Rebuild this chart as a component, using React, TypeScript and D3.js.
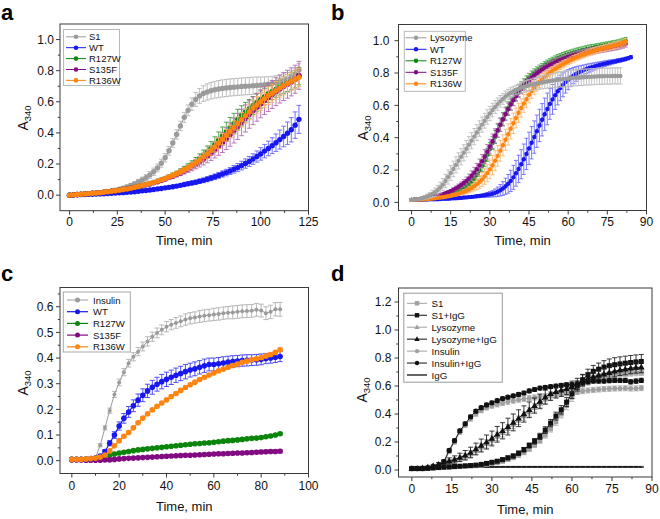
import React from "react";
import * as d3 from "d3";

const FONT = '"Liberation Sans", Arial, Helvetica, sans-serif';

// ---------------- Panel a (time every 2 min, 0..120) ----------------
const aTime = d3.range(0, 121, 2);
const aS1 = [0,0.002,0.004,0.005,0.007,0.009,0.011,0.013,0.016,0.019,
  0.023,0.027,0.032,0.038,0.045,0.053,0.062,0.072,0.084,0.097,
  0.112,0.13,0.15,0.175,0.205,0.24,0.285,0.335,0.39,0.445,
  0.5,0.545,0.585,0.615,0.638,0.653,0.663,0.671,0.677,0.682,
  0.686,0.689,0.692,0.694,0.696,0.698,0.7,0.701,0.703,0.705,
  0.707,0.71,0.713,0.717,0.722,0.728,0.736,0.746,0.759,0.778,0.805];
const aS1Err = [0.002,0.002,0.003,0.003,0.003,0.004,0.004,0.005,0.005,0.006,
  0.006,0.007,0.008,0.009,0.01,0.012,0.013,0.015,0.017,0.019,
  0.02,0.022,0.024,0.025,0.026,0.027,0.028,0.028,0.03,0.03,
  0.032,0.035,0.04,0.045,0.048,0.05,0.052,0.053,0.054,0.055,
  0.055,0.055,0.055,0.055,0.055,0.055,0.055,0.055,0.055,0.055,
  0.052,0.05,0.048,0.046,0.045,0.044,0.043,0.042,0.04,0.04,0.04];
const aWT = [0,0.001,0.002,0.003,0.004,0.005,0.006,0.007,0.008,0.009,
  0.01,0.012,0.013,0.015,0.016,0.018,0.02,0.022,0.025,0.028,
  0.03,0.033,0.036,0.04,0.043,0.047,0.05,0.054,0.058,0.063,
  0.068,0.073,0.078,0.083,0.089,0.095,0.102,0.11,0.118,0.127,
  0.136,0.145,0.155,0.166,0.177,0.19,0.203,0.217,0.232,0.248,
  0.265,0.283,0.3,0.318,0.337,0.357,0.377,0.398,0.42,0.45,0.487];
const aWTErr = [0.002,0.002,0.002,0.002,0.003,0.003,0.003,0.003,0.003,0.003,
  0.003,0.004,0.004,0.004,0.004,0.004,0.005,0.005,0.005,0.005,
  0.006,0.006,0.006,0.007,0.007,0.008,0.008,0.008,0.009,0.009,
  0.01,0.011,0.012,0.013,0.014,0.015,0.016,0.017,0.018,0.019,
  0.02,0.021,0.022,0.024,0.026,0.028,0.03,0.032,0.034,0.036,
  0.04,0.043,0.047,0.051,0.056,0.061,0.066,0.072,0.078,0.085,0.09];
const aR127W = [0,0.002,0.004,0.006,0.008,0.01,0.012,0.014,0.016,0.019,
  0.022,0.025,0.028,0.032,0.036,0.04,0.045,0.05,0.056,0.062,
  0.068,0.075,0.082,0.09,0.098,0.107,0.117,0.128,0.14,0.153,
  0.167,0.182,0.198,0.216,0.235,0.256,0.278,0.302,0.327,0.353,
  0.38,0.407,0.434,0.46,0.486,0.51,0.533,0.555,0.576,0.596,
  0.615,0.633,0.65,0.666,0.681,0.695,0.708,0.72,0.732,0.745,0.765];
const aR127WErr = [0.001,0.001,0.001,0.002,0.002,0.002,0.002,0.003,0.003,0.003,
  0.003,0.004,0.004,0.004,0.005,0.005,0.005,0.006,0.006,0.007,
  0.007,0.008,0.008,0.009,0.01,0.011,0.012,0.013,0.014,0.016,
  0.018,0.02,0.023,0.026,0.03,0.034,0.038,0.043,0.048,0.053,
  0.058,0.062,0.065,0.066,0.066,0.065,0.063,0.06,0.058,0.056,
  0.055,0.054,0.053,0.052,0.052,0.052,0.053,0.054,0.055,0.056,0.056];
const aS135F = [0,0.002,0.004,0.006,0.008,0.01,0.012,0.014,0.016,0.019,
  0.022,0.025,0.028,0.032,0.036,0.04,0.045,0.05,0.055,0.06,
  0.066,0.072,0.079,0.086,0.094,0.103,0.113,0.122,0.132,0.143,
  0.155,0.168,0.182,0.197,0.213,0.23,0.249,0.269,0.291,0.314,
  0.338,0.363,0.389,0.415,0.441,0.467,0.493,0.518,0.542,0.565,
  0.587,0.608,0.628,0.647,0.665,0.682,0.698,0.713,0.728,0.745,0.77];
const aS135FErr = [0.001,0.001,0.001,0.002,0.002,0.002,0.002,0.003,0.003,0.003,
  0.003,0.004,0.004,0.004,0.005,0.005,0.005,0.006,0.006,0.007,
  0.007,0.008,0.008,0.009,0.01,0.011,0.012,0.013,0.015,0.017,
  0.019,0.022,0.025,0.028,0.032,0.036,0.041,0.046,0.052,0.058,
  0.064,0.07,0.075,0.08,0.083,0.085,0.087,0.088,0.089,0.09,
  0.09,0.09,0.09,0.09,0.09,0.09,0.09,0.09,0.09,0.09,0.09];
const aR136W = [0,0.002,0.004,0.006,0.008,0.01,0.012,0.014,0.016,0.019,
  0.022,0.025,0.028,0.032,0.036,0.04,0.045,0.05,0.056,0.062,
  0.068,0.075,0.082,0.09,0.098,0.107,0.117,0.127,0.138,0.15,
  0.163,0.177,0.192,0.208,0.225,0.245,0.265,0.287,0.31,0.335,
  0.36,0.385,0.41,0.435,0.46,0.485,0.51,0.535,0.56,0.58,
  0.6,0.62,0.64,0.655,0.672,0.688,0.703,0.718,0.732,0.745,0.757];
const aR136WErr = [0.001,0.001,0.001,0.002,0.002,0.002,0.002,0.003,0.003,0.003,
  0.003,0.004,0.004,0.004,0.005,0.005,0.005,0.006,0.006,0.007,
  0.007,0.008,0.008,0.009,0.01,0.011,0.012,0.013,0.014,0.015,
  0.016,0.018,0.02,0.022,0.024,0.026,0.028,0.03,0.032,0.034,
  0.036,0.038,0.04,0.042,0.044,0.046,0.048,0.05,0.052,0.054,
  0.055,0.056,0.057,0.058,0.058,0.058,0.058,0.058,0.058,0.058,0.058];

// ---------------- Panel b (time every 1 min) ----------------
const bTimeLys = d3.range(0, 81, 1);
const bTimeWT = d3.range(0, 85, 1);
const bTimeMut = d3.range(0, 83, 1);
const bLys = [0.016,0.017,0.019,0.022,0.026,0.031,0.037,0.044,0.053,0.063,
  0.076,0.092,0.11,0.132,0.157,0.182,0.207,0.232,0.257,0.282,
  0.307,0.332,0.357,0.382,0.407,0.432,0.457,0.481,0.505,0.528,
  0.55,0.571,0.59,0.608,0.625,0.64,0.655,0.667,0.678,0.687,
  0.695,0.702,0.708,0.714,0.719,0.724,0.728,0.732,0.736,0.739,
  0.742,0.745,0.748,0.751,0.754,0.756,0.758,0.76,0.762,0.764,
  0.766,0.768,0.77,0.771,0.772,0.773,0.774,0.775,0.776,0.777,
  0.778,0.779,0.78,0.78,0.781,0.781,0.781,0.782,0.782,0.782,0.782];
const bLysErr = [0.004,0.005,0.006,0.008,0.01,0.012,0.015,0.018,0.022,0.026,
  0.03,0.034,0.038,0.041,0.044,0.046,0.048,0.05,0.05,0.05,
  0.05,0.05,0.05,0.05,0.05,0.049,0.048,0.047,0.046,0.045,
  0.044,0.042,0.04,0.038,0.036,0.034,0.033,0.032,0.031,0.03,
  0.03,0.031,0.032,0.033,0.034,0.035,0.036,0.037,0.038,0.039,
  0.04,0.041,0.042,0.043,0.044,0.045,0.046,0.047,0.048,0.049,
  0.05,0.05,0.05,0.05,0.05,0.05,0.05,0.05,0.05,0.05,
  0.05,0.05,0.05,0.05,0.05,0.05,0.05,0.05,0.05,0.05,0.05];
const bWT = [0.016,0.016,0.016,0.017,0.017,0.018,0.018,0.019,0.019,0.02,
  0.02,0.021,0.022,0.022,0.023,0.024,0.025,0.026,0.027,0.028,
  0.03,0.031,0.033,0.034,0.036,0.038,0.04,0.042,0.044,0.047,
  0.05,0.054,0.059,0.066,0.075,0.086,0.1,0.115,0.133,0.155,
  0.18,0.207,0.236,0.267,0.3,0.334,0.369,0.404,0.44,0.476,
  0.511,0.545,0.578,0.609,0.637,0.663,0.687,0.708,0.727,0.744,
  0.759,0.772,0.784,0.794,0.803,0.811,0.818,0.825,0.831,0.836,
  0.841,0.846,0.85,0.854,0.858,0.862,0.865,0.869,0.872,0.876,
  0.879,0.883,0.887,0.892,0.898];
const bWTErr = [0.003,0.003,0.003,0.003,0.003,0.003,0.003,0.003,0.003,0.003,
  0.004,0.004,0.004,0.004,0.004,0.004,0.004,0.004,0.004,0.004,
  0.005,0.005,0.006,0.006,0.007,0.008,0.009,0.01,0.012,0.014,
  0.017,0.02,0.024,0.029,0.035,0.042,0.05,0.058,0.066,0.074,
  0.08,0.085,0.09,0.094,0.097,0.1,0.1,0.1,0.1,0.1,
  0.1,0.1,0.098,0.095,0.092,0.088,0.084,0.079,0.074,0.068,
  0.062,0.056,0.05,0.045,0.04,0.036,0.032,0.029,0.026,0.024,
  0.022,0.02,0.019,0.018,0.017,0.016,0.015,0.014,0.013,0.012,
  0.012,0.011,0.011,0.01,0.01];
const bR127W = [0.016,0.017,0.018,0.019,0.02,0.021,0.023,0.025,0.027,0.029,
  0.032,0.035,0.038,0.042,0.046,0.051,0.057,0.064,0.072,0.081,
  0.091,0.102,0.115,0.13,0.148,0.17,0.196,0.226,0.259,0.294,
  0.33,0.367,0.405,0.443,0.48,0.516,0.55,0.582,0.612,0.64,
  0.666,0.69,0.712,0.732,0.752,0.77,0.786,0.8,0.813,0.825,
  0.836,0.847,0.857,0.866,0.875,0.883,0.891,0.898,0.904,0.91,
  0.916,0.921,0.926,0.931,0.935,0.939,0.943,0.947,0.951,0.954,
  0.958,0.961,0.964,0.967,0.97,0.973,0.976,0.979,0.982,0.985,
  0.99,0.995,1.0];
const bR127WErr = [0.003,0.003,0.003,0.003,0.003,0.003,0.003,0.003,0.003,0.003,
  0.005,0.005,0.006,0.006,0.007,0.008,0.009,0.01,0.012,0.014,
  0.016,0.019,0.022,0.025,0.028,0.031,0.034,0.036,0.038,0.04,
  0.04,0.04,0.04,0.04,0.04,0.04,0.04,0.04,0.04,0.04,
  0.038,0.036,0.034,0.032,0.03,0.028,0.027,0.026,0.025,0.024,
  0.023,0.023,0.023,0.023,0.023,0.023,0.023,0.023,0.023,0.023,
  0.022,0.022,0.022,0.022,0.022,0.022,0.022,0.022,0.022,0.022,
  0.02,0.02,0.02,0.02,0.02,0.02,0.02,0.02,0.02,0.02,
  0.02,0.02,0.02];
const bS135F = [0.016,0.017,0.018,0.02,0.022,0.024,0.027,0.03,0.033,0.037,
  0.041,0.046,0.051,0.057,0.063,0.07,0.078,0.087,0.097,0.108,
  0.12,0.133,0.148,0.165,0.184,0.205,0.229,0.255,0.283,0.313,
  0.345,0.378,0.412,0.446,0.48,0.513,0.545,0.576,0.605,0.632,
  0.657,0.68,0.701,0.721,0.739,0.756,0.771,0.785,0.798,0.81,
  0.821,0.831,0.841,0.85,0.858,0.866,0.873,0.88,0.886,0.892,
  0.898,0.903,0.908,0.913,0.917,0.921,0.925,0.929,0.933,0.936,
  0.939,0.942,0.945,0.948,0.951,0.954,0.957,0.96,0.963,0.966,
  0.969,0.974,0.98];
const bS135FErr = [0.003,0.003,0.003,0.003,0.003,0.003,0.003,0.003,0.003,0.003,
  0.005,0.006,0.007,0.008,0.009,0.01,0.012,0.014,0.016,0.018,
  0.021,0.024,0.027,0.03,0.033,0.036,0.039,0.041,0.043,0.045,
  0.045,0.045,0.044,0.043,0.042,0.041,0.04,0.038,0.036,0.034,
  0.032,0.03,0.029,0.028,0.027,0.026,0.025,0.025,0.024,0.024,
  0.023,0.023,0.023,0.023,0.023,0.023,0.023,0.023,0.023,0.023,
  0.022,0.022,0.022,0.022,0.022,0.022,0.022,0.022,0.022,0.022,
  0.021,0.021,0.021,0.021,0.021,0.021,0.021,0.021,0.021,0.021,
  0.02,0.02,0.02];
const bR136W = [0.016,0.016,0.017,0.018,0.019,0.02,0.021,0.022,0.024,0.026,
  0.028,0.03,0.032,0.035,0.038,0.041,0.045,0.049,0.054,0.059,
  0.065,0.072,0.08,0.089,0.1,0.112,0.126,0.142,0.16,0.181,
  0.204,0.23,0.258,0.288,0.32,0.353,0.387,0.421,0.455,0.489,
  0.522,0.554,0.584,0.612,0.638,0.665,0.688,0.709,0.728,0.746,
  0.762,0.777,0.791,0.803,0.814,0.825,0.835,0.845,0.854,0.863,
  0.872,0.88,0.888,0.895,0.902,0.909,0.915,0.921,0.927,0.932,
  0.937,0.942,0.947,0.951,0.955,0.959,0.963,0.967,0.971,0.975,
  0.98,0.986,0.993];
const bR136WErr = [0.003,0.003,0.003,0.003,0.003,0.003,0.003,0.003,0.003,0.003,
  0.004,0.004,0.005,0.005,0.006,0.007,0.008,0.009,0.01,0.012,
  0.014,0.017,0.02,0.024,0.028,0.033,0.038,0.043,0.048,0.053,
  0.057,0.06,0.062,0.064,0.065,0.065,0.065,0.065,0.064,0.063,
  0.061,0.059,0.057,0.055,0.052,0.049,0.046,0.043,0.04,0.037,
  0.034,0.032,0.03,0.028,0.026,0.025,0.024,0.023,0.022,0.021,
  0.02,0.02,0.02,0.02,0.02,0.02,0.02,0.02,0.02,0.02,
  0.02,0.02,0.02,0.02,0.02,0.02,0.02,0.02,0.02,0.02,
  0.02,0.02,0.02];

// ---------------- Panel c (time every 2 min, 0..88) ----------------
const cTime = d3.range(0, 89, 2);
const cInsulin = [0.005,0.005,0.005,0.006,0.008,0.012,0.06,0.128,0.195,0.258,
  0.305,0.345,0.38,0.405,0.425,0.445,0.465,0.483,0.498,0.51,
  0.522,0.53,0.537,0.543,0.55,0.555,0.558,0.562,0.565,0.567,
  0.57,0.572,0.575,0.577,0.578,0.58,0.582,0.583,0.584,0.588,
  0.585,0.575,0.58,0.59,0.59];
const cInsulinErr = [0.003,0.003,0.003,0.003,0.003,0.004,0.006,0.008,0.01,0.012,
  0.013,0.014,0.015,0.016,0.016,0.017,0.018,0.018,0.019,0.019,
  0.02,0.02,0.021,0.021,0.022,0.022,0.022,0.023,0.023,0.023,
  0.024,0.024,0.024,0.024,0.025,0.025,0.025,0.025,0.025,0.025,
  0.025,0.025,0.026,0.026,0.027];
const cWT = [0.005,0.005,0.005,0.005,0.008,0.01,0.018,0.036,0.068,0.1,
  0.135,0.165,0.19,0.214,0.236,0.255,0.272,0.286,0.298,0.308,
  0.317,0.325,0.333,0.34,0.347,0.353,0.358,0.364,0.37,0.375,
  0.375,0.378,0.381,0.384,0.386,0.388,0.39,0.391,0.392,0.393,
  0.395,0.398,0.4,0.403,0.406];
const cWTErr = [0.003,0.003,0.003,0.003,0.003,0.004,0.005,0.007,0.01,0.013,
  0.016,0.019,0.021,0.023,0.024,0.025,0.026,0.027,0.027,0.028,
  0.028,0.028,0.028,0.028,0.028,0.027,0.027,0.026,0.026,0.025,
  0.025,0.024,0.024,0.023,0.023,0.022,0.022,0.022,0.021,0.021,
  0.021,0.02,0.02,0.02,0.02];
const cR127W = [0.005,0.005,0.005,0.006,0.007,0.009,0.012,0.016,0.021,0.026,
  0.03,0.033,0.036,0.039,0.042,0.044,0.046,0.048,0.05,0.052,
  0.054,0.056,0.058,0.06,0.062,0.064,0.066,0.067,0.069,0.07,
  0.072,0.074,0.076,0.078,0.079,0.081,0.083,0.085,0.087,0.088,
  0.09,0.093,0.096,0.1,0.105];
const cR127WErr = [0.003,0.003,0.003,0.003,0.003,0.003,0.003,0.003,0.003,0.003,
  0.004,0.004,0.004,0.004,0.004,0.004,0.004,0.004,0.004,0.004,
  0.004,0.004,0.004,0.004,0.004,0.004,0.004,0.004,0.004,0.004,
  0.005,0.005,0.005,0.005,0.005,0.005,0.005,0.005,0.005,0.005,
  0.005,0.005,0.005,0.005,0.005];
const cS135F = [0.003,0.003,0.003,0.002,0.002,0.002,0.002,0.003,0.003,0.005,
  0.007,0.008,0.009,0.01,0.011,0.012,0.013,0.014,0.015,0.016,
  0.017,0.018,0.019,0.02,0.021,0.021,0.022,0.023,0.024,0.025,
  0.026,0.027,0.027,0.028,0.029,0.03,0.03,0.031,0.032,0.033,
  0.034,0.035,0.036,0.036,0.037];
const cS135FErr = [0.003,0.003,0.003,0.003,0.003,0.003,0.003,0.003,0.003,0.003,
  0.004,0.004,0.004,0.004,0.004,0.004,0.004,0.004,0.004,0.004,
  0.005,0.005,0.005,0.005,0.005,0.005,0.005,0.005,0.005,0.005,
  0.006,0.006,0.006,0.006,0.006,0.006,0.006,0.006,0.006,0.006,
  0.007,0.007,0.007,0.007,0.007];
const cR136W = [0.005,0.005,0.005,0.006,0.008,0.01,0.014,0.022,0.038,0.058,
  0.078,0.095,0.11,0.128,0.148,0.166,0.183,0.198,0.212,0.225,
  0.237,0.25,0.262,0.274,0.285,0.296,0.306,0.316,0.325,0.334,
  0.342,0.35,0.357,0.364,0.371,0.377,0.383,0.388,0.393,0.397,
  0.402,0.408,0.414,0.422,0.432];
const cR136WErr = [0.003,0.003,0.003,0.003,0.003,0.003,0.003,0.003,0.003,0.003,
  0.005,0.005,0.005,0.005,0.005,0.005,0.005,0.005,0.005,0.005,
  0.006,0.006,0.006,0.006,0.006,0.006,0.006,0.006,0.006,0.006,
  0.006,0.006,0.006,0.006,0.006,0.006,0.006,0.006,0.006,0.006,
  0.007,0.007,0.007,0.007,0.007];

// ---------------- Panel d (time every 2 min, 0..86) ----------------
const dTime = d3.range(0, 87, 2);
const dS1 = [0.01,0.01,0.01,0.012,0.014,0.016,0.018,0.02,0.022,0.024,
  0.026,0.028,0.03,0.034,0.04,0.046,0.053,0.062,0.074,0.088,
  0.105,0.125,0.15,0.178,0.21,0.25,0.295,0.345,0.4,0.46,
  0.52,0.57,0.608,0.635,0.652,0.664,0.672,0.678,0.683,0.687,
  0.69,0.693,0.695,0.697];
const dS1Err = [0.005,0.005,0.005,0.005,0.005,0.005,0.005,0.005,0.005,0.005,
  0.006,0.006,0.007,0.008,0.009,0.01,0.011,0.012,0.013,0.014,
  0.015,0.016,0.017,0.018,0.02,0.022,0.024,0.026,0.028,0.03,
  0.03,0.03,0.03,0.028,0.026,0.025,0.024,0.023,0.022,0.022,
  0.022,0.022,0.022,0.022];
const dS1IgG = [0.01,0.01,0.01,0.012,0.015,0.018,0.02,0.022,0.025,0.027,
  0.03,0.032,0.035,0.04,0.047,0.055,0.063,0.074,0.087,0.1,
  0.12,0.145,0.175,0.205,0.24,0.285,0.335,0.385,0.43,0.485,
  0.545,0.6,0.645,0.68,0.705,0.72,0.735,0.745,0.752,0.758,
  0.763,0.768,0.772,0.775];
const dS1IgGErr = [0.005,0.005,0.005,0.005,0.005,0.005,0.005,0.005,0.005,0.005,
  0.006,0.006,0.007,0.008,0.009,0.01,0.011,0.012,0.013,0.014,
  0.015,0.016,0.018,0.02,0.022,0.024,0.026,0.028,0.03,0.032,
  0.034,0.036,0.038,0.04,0.042,0.044,0.046,0.048,0.05,0.05,
  0.05,0.05,0.05,0.05];
const dLys = [0.01,0.01,0.013,0.018,0.026,0.036,0.048,0.058,0.068,0.082,
  0.097,0.115,0.138,0.162,0.187,0.212,0.24,0.266,0.295,0.325,
  0.355,0.385,0.415,0.445,0.475,0.505,0.53,0.548,0.56,0.572,
  0.588,0.608,0.628,0.642,0.652,0.662,0.671,0.679,0.686,0.692,
  0.697,0.7,0.703,0.705];
const dLysErr = [0.005,0.005,0.006,0.008,0.01,0.012,0.014,0.016,0.018,0.02,
  0.022,0.024,0.026,0.028,0.03,0.03,0.03,0.03,0.03,0.03,
  0.03,0.03,0.03,0.03,0.03,0.03,0.03,0.03,0.03,0.03,
  0.028,0.026,0.025,0.024,0.023,0.022,0.022,0.022,0.022,0.022,
  0.022,0.022,0.022,0.022];
const dLysIgG = [0.01,0.01,0.015,0.02,0.03,0.04,0.055,0.065,0.075,0.09,
  0.105,0.125,0.15,0.175,0.2,0.225,0.255,0.28,0.31,0.34,
  0.37,0.4,0.43,0.46,0.49,0.52,0.545,0.56,0.57,0.58,
  0.595,0.615,0.64,0.655,0.665,0.675,0.685,0.695,0.705,0.715,
  0.72,0.728,0.732,0.735];
const dLysIgGErr = [0.005,0.005,0.006,0.008,0.01,0.014,0.018,0.022,0.026,0.03,
  0.034,0.038,0.042,0.046,0.05,0.053,0.056,0.058,0.06,0.06,
  0.06,0.058,0.056,0.054,0.052,0.05,0.048,0.046,0.044,0.042,
  0.04,0.04,0.04,0.04,0.04,0.04,0.04,0.04,0.04,0.04,
  0.04,0.04,0.04,0.04];
const dIns = [0.01,0.01,0.01,0.012,0.015,0.025,0.055,0.13,0.2,0.27,
  0.32,0.365,0.4,0.425,0.445,0.458,0.468,0.478,0.487,0.495,
  0.502,0.508,0.513,0.518,0.523,0.528,0.533,0.538,0.543,0.548,
  0.553,0.558,0.563,0.568,0.572,0.575,0.578,0.58,0.582,0.583,
  0.584,0.582,0.583,0.585];
const dInsErr = [0.005,0.005,0.005,0.005,0.005,0.005,0.008,0.012,0.015,0.016,
  0.016,0.016,0.016,0.016,0.016,0.017,0.017,0.017,0.018,0.018,
  0.018,0.018,0.018,0.018,0.018,0.018,0.018,0.018,0.018,0.018,
  0.018,0.018,0.018,0.018,0.018,0.018,0.018,0.018,0.018,0.018,
  0.018,0.018,0.018,0.018];
const dInsIgG = [0.01,0.01,0.01,0.015,0.02,0.03,0.06,0.14,0.21,0.28,
  0.33,0.38,0.42,0.445,0.465,0.48,0.495,0.51,0.52,0.53,
  0.54,0.55,0.565,0.575,0.585,0.59,0.595,0.6,0.605,0.608,
  0.61,0.615,0.625,0.63,0.635,0.635,0.635,0.638,0.64,0.64,
  0.64,0.63,0.635,0.64];
const dInsIgGErr = [0.005,0.005,0.005,0.005,0.006,0.007,0.009,0.011,0.012,0.012,
  0.012,0.012,0.012,0.012,0.012,0.012,0.012,0.012,0.012,0.012,
  0.013,0.013,0.013,0.013,0.013,0.013,0.013,0.013,0.013,0.013,
  0.014,0.014,0.014,0.014,0.014,0.014,0.014,0.014,0.014,0.014,
  0.015,0.015,0.015,0.015];
const dIgG = [0.022,0.022,0.022,0.022,0.022,0.022,0.022,0.022,0.022,0.022,
  0.022,0.022,0.022,0.022,0.022,0.022,0.022,0.022,0.022,0.022,
  0.022,0.022,0.022,0.022,0.022,0.022,0.022,0.022,0.022,0.022,
  0.022,0.022,0.022,0.022,0.022,0.022,0.022,0.022,0.022,0.022,
  0.022,0.022,0.022,0.022];
const dIgGErr = [0.004,0.004,0.004,0.004,0.004,0.004,0.004,0.004,0.004,0.004,
  0.004,0.004,0.004,0.004,0.004,0.004,0.004,0.004,0.004,0.004,
  0.004,0.004,0.004,0.004,0.004,0.004,0.004,0.004,0.004,0.004,
  0.004,0.004,0.004,0.004,0.004,0.004,0.004,0.004,0.004,0.004,
  0.004,0.004,0.004,0.004];

// ---------------- Axis ticks ----------------
const aXTicks = [0, 25, 50, 75, 100, 125];
const aYTicks = [0, 0.2, 0.4, 0.6, 0.8, 1.0];
const bXTicks = [0, 15, 30, 45, 60, 75, 90];
const bYTicks = [0, 0.2, 0.4, 0.6, 0.8, 1.0];
const cXTicks = [0, 20, 40, 60, 80, 100];
const cYTicks = [0, 0.1, 0.2, 0.3, 0.4, 0.5, 0.6];
const dXTicks = [0, 15, 30, 45, 60, 75, 90];
const dYTicks = [0, 0.2, 0.4, 0.6, 0.8, 1.0, 1.2];

// ---------------- Colours ----------------
const GRAY = "#9b9b9b", BLUE = "#1717ee", GREEN = "#0b850b", PURPLE = "#820a82", ORANGE = "#ff8410", BLACK = "#111111";

type Shape = "circle" | "square" | "triangle" | "none";
type Ser = {
  name: string; t: number[]; v: number[]; e: number[];
  color: string; ecol: string; lcol: string; shape: Shape; size: number; lw: number;
};

type Cfg = {
  letter: string; lx: number; ly: number;
  x0: number; x1: number; y0: number; y1: number;
  xd: [number, number]; yd: [number, number];
  xTicks: number[]; xStep: number; yTicks: number[]; yStep: number;
  yGap: number; xLabY: number; titleY: number; aPos: [number, number];
  series: Ser[]; legendOrder: Ser[];
  lg: { x: number; y: number; w: number; h: number; row0: number; dy: number; l0: number; l1: number; tx: number; fs: number; border: string; msize: number };
  cap: number;
};

function Marker({ shape, cx, cy, size, fill }: { shape: Shape; cx: number; cy: number; size: number; fill: string }) {
  if (shape === "circle") return <circle cx={cx} cy={cy} r={size} fill={fill} />;
  if (shape === "square") return <rect x={cx - size} y={cy - size} width={size * 2} height={size * 2} fill={fill} />;
  if (shape === "triangle") {
    const p = d3.symbol(d3.symbolTriangle, size * size * 2.6)() || "";
    return <path d={p} transform={`translate(${cx},${cy + size * 0.15})`} fill={fill} />;
  }
  return null;
}

function Panel({ c }: { c: Cfg }) {
  const x = d3.scaleLinear().domain(c.xd).range([c.x0, c.x1]);
  const y = d3.scaleLinear().domain(c.yd).range([c.y1, c.y0]);
  const line = d3.line<[number, number]>().x((d) => x(d[0])).y((d) => y(d[1]));
  const xMinor: number[] = [];
  for (let i = 0; i < c.xTicks.length - 1; i++) xMinor.push((c.xTicks[i] + c.xTicks[i + 1]) / 2);
  const yMinor: number[] = [];
  for (let i = 0; i < c.yTicks.length - 1; i++) yMinor.push((c.yTicks[i] + c.yTicks[i + 1]) / 2);
  const lastY = c.yTicks[c.yTicks.length - 1];
  if (lastY + c.yStep / 2 < c.yd[1]) yMinor.push(lastY + c.yStep / 2);
  const fmt = d3.format(".1f");
  const axisCol = "#3a3a3a";
  const cx = (c.x0 + c.x1) / 2;

  return (
    <g>
      <text x={c.lx} y={c.ly} fontSize={22} fontWeight="bold" fontFamily={FONT} fill="#000">{c.letter}</text>
      {c.series.map((s, si) => {
        const n = Math.min(s.t.length, s.v.length);
        const pts: [number, number][] = [];
        let eb = "";
        for (let i = 0; i < n; i++) {
          pts.push([s.t[i], s.v[i]]);
          const e = s.e[i] || 0;
          if (e > 0) {
            const px = x(s.t[i]);
            const yt = y(s.v[i] + e), yb = y(s.v[i] - e);
            eb += `M${px},${yb}V${yt}M${px - c.cap},${yt}H${px + c.cap}M${px - c.cap},${yb}H${px + c.cap}`;
          }
        }
        return (
          <g key={si}>
            <path d={eb} stroke={s.ecol} strokeWidth={0.9} fill="none" />
            <path d={line(pts) || ""} stroke={s.lcol} strokeWidth={s.lw} fill="none" />
            {s.shape !== "none" && pts.map((p, i) => (
              <Marker key={i} shape={s.shape} cx={x(p[0])} cy={y(p[1])} size={s.size} fill={s.color} />
            ))}
          </g>
        );
      })}
      <rect x={c.x0} y={c.y0} width={c.x1 - c.x0} height={c.y1 - c.y0} fill="none" stroke={axisCol} strokeWidth={1} />
      {c.xTicks.map((t) => (
        <g key={"xt" + t}>
          <line x1={x(t)} x2={x(t)} y1={c.y1} y2={c.y1 + 4} stroke={axisCol} strokeWidth={1} />
          <text x={x(t)} y={c.xLabY} fontSize={12} textAnchor="middle" fontFamily={FONT} fill="#111">{t}</text>
        </g>
      ))}
      {xMinor.map((t) => (
        <line key={"xm" + t} x1={x(t)} x2={x(t)} y1={c.y1} y2={c.y1 + 2.2} stroke={axisCol} strokeWidth={1} />
      ))}
      {c.yTicks.map((t) => (
        <g key={"yt" + t}>
          <line x1={c.x0 - 4} x2={c.x0} y1={y(t)} y2={y(t)} stroke={axisCol} strokeWidth={1} />
          <text x={c.x0 - c.yGap} y={y(t) + 4.3} fontSize={12} textAnchor="end" fontFamily={FONT} fill="#111">{fmt(t)}</text>
        </g>
      ))}
      {yMinor.map((t) => (
        <line key={"ym" + t} x1={c.x0 - 2.2} x2={c.x0} y1={y(t)} y2={y(t)} stroke={axisCol} strokeWidth={1} />
      ))}
      <text x={cx} y={c.titleY} fontSize={13} textAnchor="middle" fontFamily={FONT} fill="#111">Time, min</text>
      <text transform={`translate(${c.aPos[0]},${c.aPos[1]}) rotate(-90)`} fontSize={14} textAnchor="middle" fontFamily={FONT} fill="#111">
        A<tspan fontSize={9.5} dy={3}>340</tspan>
      </text>
      <rect x={c.lg.x} y={c.lg.y} width={c.lg.w} height={c.lg.h} fill="#fff" stroke={c.lg.border} strokeWidth={1} />
      {c.legendOrder.map((s, i) => {
        const ry = c.lg.row0 + i * c.lg.dy;
        const mx = (c.lg.l0 + c.lg.l1) / 2;
        return (
          <g key={"lg" + i}>
            <line x1={c.lg.l0} x2={c.lg.l1} y1={ry} y2={ry} stroke={s.lcol} strokeWidth={s.lw < 1 ? 1 : s.lw} />
            {s.shape !== "none" && <Marker shape={s.shape} cx={mx} cy={ry} size={c.lg.msize} fill={s.color} />}
            <text x={c.lg.tx} y={ry + 3.5} fontSize={c.lg.fs} fontFamily={FONT} fill="#111">{s.name}</text>
          </g>
        );
      })}
    </g>
  );
}

// ---------------- Series configs ----------------
const mk = (name: string, t: number[], v: number[], e: number[], color: string, ecol: string, shape: Shape, size: number, lw = 1, lcol?: string): Ser =>
  ({ name, t, v, e, color, ecol, lcol: lcol || color, shape, size, lw });

const aSer = [
  mk("S1", aTime, aS1, aS1Err, GRAY, "#b9b9b9", "circle", 2.7),
  mk("WT", aTime, aWT, aWTErr, BLUE, "#6262ff", "circle", 2.7),
  mk("R127W", aTime, aR127W, aR127WErr, GREEN, "#3f9f3f", "circle", 2.7),
  mk("S135F", aTime, aS135F, aS135FErr, PURPLE, "#b46ab4", "circle", 2.7),
  mk("R136W", aTime, aR136W, aR136WErr, ORANGE, "#ffb466", "circle", 2.7),
];
const bSer = [
  mk("Lysozyme", bTimeLys, bLys, bLysErr, GRAY, "#bdbdbd", "circle", 2.2),
  mk("WT", bTimeWT, bWT, bWTErr, BLUE, "#6a6aff", "circle", 2.2),
  mk("R127W", bTimeMut, bR127W, bR127WErr, GREEN, "#48a848", "circle", 2.2),
  mk("S135F", bTimeMut, bS135F, bS135FErr, PURPLE, "#b070b0", "circle", 2.2),
  mk("R136W", bTimeMut, bR136W, bR136WErr, ORANGE, "#ffb870", "circle", 2.2),
];
const cIns = mk("Insulin", cTime, cInsulin, cInsulinErr, GRAY, "#b0b0b0", "circle", 2.0);
const cW = mk("WT", cTime, cWT, cWTErr, BLUE, "#3c3cf5", "circle", 2.8, 1.2);
const cG = mk("R127W", cTime, cR127W, cR127WErr, GREEN, "#5aaa5a", "circle", 2.8, 1.2);
const cP = mk("S135F", cTime, cS135F, cS135FErr, PURPLE, "#b070b0", "circle", 2.8, 1.2);
const cO = mk("R136W", cTime, cR136W, cR136WErr, ORANGE, "#ffb070", "circle", 2.8, 1.2);

const dS1s = mk("S1", dTime, dS1, dS1Err, "#a0a0a0", "#b0b0b0", "square", 2.4);
const dS1I = mk("S1+IgG", dTime, dS1IgG, dS1IgGErr, BLACK, "#222", "square", 2.5);
const dLs = mk("Lysozyme", dTime, dLys, dLysErr, "#a0a0a0", "#b0b0b0", "triangle", 2.6);
const dLI = mk("Lysozyme+IgG", dTime, dLysIgG, dLysIgGErr, BLACK, "#222", "triangle", 2.7);
const dIs = mk("Insulin", dTime, dIns, dInsErr, "#a0a0a0", "#b0b0b0", "circle", 2.5);
const dII = mk("Insulin+IgG", dTime, dInsIgG, dInsIgGErr, BLACK, "#222", "circle", 2.6);
const dG = mk("IgG", dTime, dIgG, dIgGErr, BLACK, "#333", "none", 0, 1.3);

const cfgA: Cfg = {
  letter: "a", lx: 1, ly: 20,
  x0: 60, x1: 308.5, y0: 24, y1: 210.7,
  xd: [-5, 125], yd: [-0.1, 1.1],
  xTicks: aXTicks, xStep: 25, yTicks: aYTicks, yStep: 0.2,
  yGap: 6, xLabY: 225.5, titleY: 244.5, aPos: [28, 118],
  series: aSer, legendOrder: aSer,
  lg: { x: 63.5, y: 29.5, w: 56, h: 56, row0: 36.8, dy: 10.9, l0: 66, l1: 86, tx: 89, fs: 9.5, border: "#b8b8b8", msize: 2.3 },
  cap: 2.4,
};
const cfgB: Cfg = {
  letter: "b", lx: 331, ly: 20,
  x0: 398.5, x1: 646.5, y0: 24.5, y1: 210.5,
  xd: [-5, 90], yd: [-0.05, 1.1],
  xTicks: bXTicks, xStep: 15, yTicks: bYTicks, yStep: 0.2,
  yGap: 9, xLabY: 225.5, titleY: 244.5, aPos: [368, 128],
  series: [bSer[1], bSer[2], bSer[3], bSer[4], bSer[0]], legendOrder: bSer,
  lg: { x: 404.3, y: 31.3, w: 61, h: 60, row0: 37.8, dy: 11.5, l0: 405.5, l1: 426.5, tx: 430, fs: 9.5, border: "#b8b8b8", msize: 2.2 },
  cap: 2.0,
};
const cfgC: Cfg = {
  letter: "c", lx: 1, ly: 281,
  x0: 60, x1: 308.5, y0: 287.5, y1: 473.5,
  xd: [-5, 100], yd: [-0.05, 0.675],
  xTicks: cXTicks, xStep: 20, yTicks: cYTicks, yStep: 0.1,
  yGap: 6.5, xLabY: 490, titleY: 510.5, aPos: [28, 383],
  series: [cIns, cG, cP, cW, cO], legendOrder: [cIns, cW, cG, cP, cO],
  lg: { x: 63.3, y: 292, w: 67, h: 60, row0: 300, dy: 11.7, l0: 67, l1: 88, tx: 93, fs: 9.5, border: "#a8a8a8", msize: 2.5 },
  cap: 2.6,
};
const cfgD: Cfg = {
  letter: "d", lx: 331, ly: 281,
  x0: 398.5, x1: 652, y0: 288, y1: 477,
  xd: [-5, 90], yd: [-0.05, 1.3],
  xTicks: dXTicks, xStep: 15, yTicks: dYTicks, yStep: 0.2,
  yGap: 7, xLabY: 492.5, titleY: 514, aPos: [367, 390],
  series: [dG, dS1s, dLs, dIs, dS1I, dLI, dII], legendOrder: [dS1s, dS1I, dLs, dLI, dIs, dII, dG],
  lg: { x: 403.8, y: 293.2, w: 98.5, h: 89, row0: 303.3, dy: 11.95, l0: 407, l1: 427, tx: 431.5, fs: 9.8, border: "#999", msize: 2.2 },
  cap: 2.5,
};

export default function App() {
  return (
    <svg width={660} height={519} viewBox="0 0 660 519" style={{ position: "absolute", left: 0, top: 0, background: "#fff" }}>
      <rect x={0} y={0} width={660} height={519} fill="#fff" />
      <Panel c={cfgA} />
      <Panel c={cfgB} />
      <Panel c={cfgC} />
      <Panel c={cfgD} />
    </svg>
  );
}
